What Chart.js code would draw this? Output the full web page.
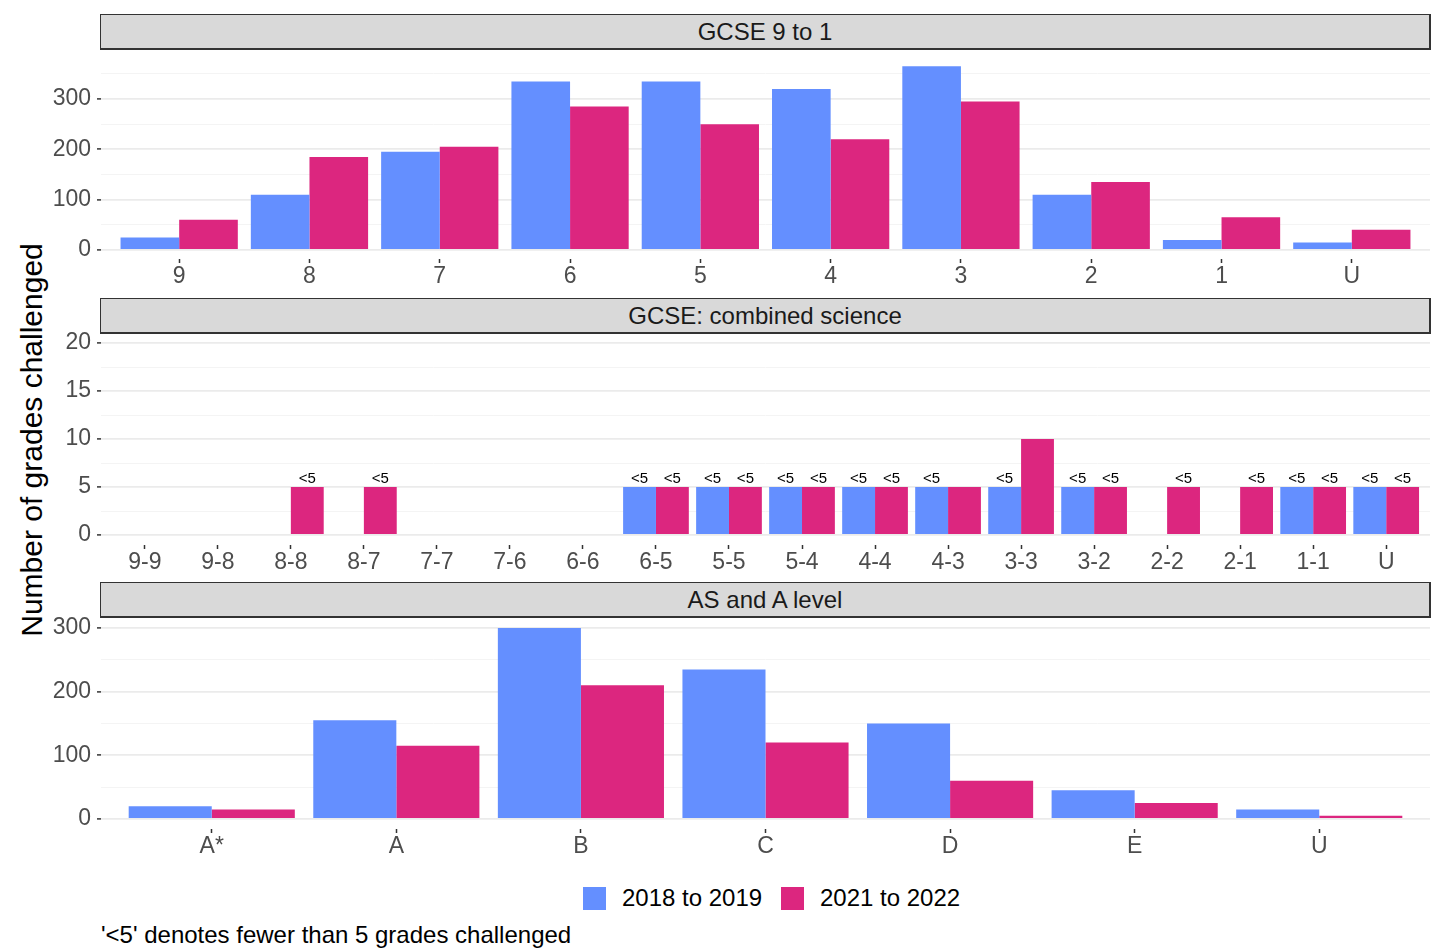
<!DOCTYPE html>
<html>
<head>
<meta charset="utf-8">
<script src="https://cdn.jsdelivr.net/npm/chart.js@4.4.1/dist/chart.umd.min.js"></script>
<style>
    body {
        margin: 0;
        width: 1446px;
        height: 950px;
        position: relative;
        overflow: hidden;
        background: #fff;
        font-family: "Liberation Sans", Arial, sans-serif;
    }
    .strip {
        position: absolute;
        left: 100px;
        width: 1331px;
        height: 36px;
        box-sizing: border-box;
        background: #D9D9D9;
        border: 1px solid #333;
        border-right-width: 2px;
        border-bottom-width: 2px;
        color: #1A1A1A;
        font-size: 24px;
        line-height: 33px;
        text-align: center;
        z-index: 2;
    }
    .panel {
        position: absolute;
        left: 0;
        width: 1446px;
        z-index: 1;
    }
    #yTitle {
        position: absolute;
        left: 32px;
        top: 440px;
        transform: translate(-50%, -50%) rotate(-90deg);
        white-space: nowrap;
        font-size: 30px;
        color: #000;
    }
    .legend {
        position: absolute;
        top: 884px;
        display: flex;
        align-items: center;
        font-size: 24px;
        color: #000;
    }
    .legend .swatch {
        width: 23px;
        height: 23px;
        margin-right: 16px;
    }
    #caption {
        position: absolute;
        left: 101px;
        top: 921px;
        font-size: 24px;
        color: #000;
        white-space: nowrap;
    }
</style>
</head>
<body>
<div class="strip" style="top:14px">GCSE 9 to 1</div>
<div class="strip" style="top:298px">GCSE: combined science</div>
<div class="strip" style="top:582px">AS and A level</div>

<div class="panel" style="top:30px;height:269px"><canvas id="gcseChart"></canvas></div>
<div class="panel" style="top:314px;height:271px"><canvas id="scienceChart"></canvas></div>
<div class="panel" style="top:598px;height:271px"><canvas id="alevelChart"></canvas></div>

<div id="yTitle">Number of grades challenged</div>

<div class="legend" style="left:583px"><div class="swatch" style="background:#648FFF"></div>2018 to 2019</div>
<div class="legend" style="left:781px"><div class="swatch" style="background:#DC267F"></div>2021 to 2022</div>
<div id="caption">'&lt;5' denotes fewer than 5 grades challenged</div>

<script>
// series labels
const seriesNames = ['2018 to 2019', '2021 to 2022'];

// GCSE 9 to 1
const gcseGrades = ['9', '8', '7', '6', '5', '4', '3', '2', '1', 'U'];
const gcse2018 = [25, 110, 195, 335, 335, 320, 365, 110, 20, 15];
const gcse2021 = [60, 185, 205, 285, 250, 220, 295, 135, 65, 40];
const gcseYTicks = [0, 100, 200, 300];

// GCSE combined science ('<5' = suppressed, drawn at 5)
const scienceGrades = ['9-9', '9-8', '8-8', '8-7', '7-7', '7-6', '6-6', '6-5', '5-5',
    '5-4', '4-4', '4-3', '3-3', '3-2', '2-2', '2-1', '1-1', 'U'];
const science2018 = [null, null, null, null, null, null, null, '<5', '<5',
    '<5', '<5', '<5', '<5', '<5', null, null, '<5', '<5'];
const science2021 = [null, null, '<5', '<5', null, null, null, '<5', '<5',
    '<5', '<5', 5, 10, '<5', '<5', '<5', '<5', '<5'];
const scienceYTicks = [0, 5, 10, 15, 20];

// AS and A level
const alevelGrades = ['A*', 'A', 'B', 'C', 'D', 'E', 'U'];
const alevel2018 = [20, 155, 300, 235, 150, 45, 15];
const alevel2021 = [15, 115, 210, 120, 60, 25, 5];
const alevelYTicks = [0, 100, 200, 300];

const SUPPRESSED = '<5';
const SUPPRESSED_VALUE = 5;

const colors = {
    y2018: '#648FFF',
    y2021: '#DC267F',
    grid: '#EBEBEB',
    minorGrid: '#F4F4F4',
    tickText: '#4D4D4D',
    tickMark: '#333333'
};

Chart.defaults.font.family = '"Liberation Sans", Arial, sans-serif';

// draws '<5' above suppressed bars
const suppressedLabels = {
    id: 'suppressedLabels',
    afterDatasetsDraw(chart, args, opts) {
        if (!opts.raw) return;
        const ctx = chart.ctx;
        ctx.save();
        ctx.font = '15px "Liberation Sans", Arial, sans-serif';
        ctx.fillStyle = '#000';
        ctx.textAlign = 'center';
        ctx.textBaseline = 'alphabetic';
        opts.raw.forEach((series, di) => {
            const meta = chart.getDatasetMeta(di);
            series.forEach((v, i) => {
                if (v === SUPPRESSED && meta.data[i]) {
                    ctx.fillText('<5', meta.data[i].x, meta.data[i].y - 4);
                }
            });
        });
        ctx.restore();
    }
};

function toValue(v) {
    return v === SUPPRESSED ? SUPPRESSED_VALUE : v;
}

function makePanel(canvasId, grades, s2018, s2021, yMin, yMax, majorTicks, minorStep, raw) {
    const gridValues = [];
    for (let v = 0; v <= yMax; v += minorStep) gridValues.push(v);
    const isMajor = v => majorTicks.includes(v);

    return new Chart(document.getElementById(canvasId), {
        type: 'bar',
        data: {
            datasets: [
                {
                    label: seriesNames[0],
                    data: s2018.map((v, i) => ({ x: i, y: toValue(v) })),
                    backgroundColor: colors.y2018
                },
                {
                    label: seriesNames[1],
                    data: s2021.map((v, i) => ({ x: i, y: toValue(v) })),
                    backgroundColor: colors.y2021
                }
            ]
        },
        options: {
            responsive: true,
            maintainAspectRatio: false,
            animation: false,
            barPercentage: 1,
            categoryPercentage: 0.9,
            layout: { padding: { left: 0, right: 16, top: 20, bottom: 0 } },
            plugins: {
                legend: { display: false },
                tooltip: { enabled: false },
                suppressedLabels: { raw: raw }
            },
            scales: {
                x: {
                    type: 'linear',
                    bounds: 'data',
                    offset: false,
                    min: -0.6,
                    max: grades.length - 0.4,
                    afterBuildTicks: s => { s.ticks = grades.map((_, i) => ({ value: i })); },
                    afterFit: s => { s.height = 40; s.paddingLeft = 0; s.paddingRight = 0; },
                    ticks: {
                        autoSkip: false,
                        maxRotation: 0,
                        padding: 0,
                        color: colors.tickText,
                        font: { size: 23 },
                        callback: v => grades[v]
                    },
                    grid: {
                        display: true,
                        offset: false,
                        drawOnChartArea: false,
                        drawTicks: true,
                        tickLength: 4,
                        tickColor: colors.tickMark,
                        tickWidth: 1.5
                    },
                    border: { display: false }
                },
                y: {
                    type: 'linear',
                    bounds: 'data',
                    min: yMin,
                    max: yMax,
                    afterBuildTicks: s => { s.ticks = gridValues.map(v => ({ value: v })); },
                    afterFit: s => { s.width = 101; s.paddingTop = 0; s.paddingBottom = 0; },
                    ticks: {
                        autoSkip: false,
                        padding: 6,
                        color: colors.tickText,
                        font: { size: 23 },
                        callback: v => isMajor(v) ? String(v) : ''
                    },
                    grid: {
                        color: c => isMajor(c.tick.value) ? colors.grid : colors.minorGrid,
                        lineWidth: c => isMajor(c.tick.value) ? 1.8 : 1,
                        tickLength: 4,
                        tickWidth: 1.5,
                        tickColor: c => isMajor(c.tick.value) ? colors.tickMark : 'rgba(0,0,0,0)'
                    },
                    border: { display: false }
                }
            }
        },
        plugins: [suppressedLabels]
    });
}

makePanel('gcseChart', gcseGrades, gcse2018, gcse2021, -17.9, 397.4, gcseYTicks, 50, null);
makePanel('scienceChart', scienceGrades, science2018, science2021, -1.04, 20.94, scienceYTicks, 2.5,
    [science2018, science2021]);
makePanel('alevelChart', alevelGrades, alevel2018, alevel2021, -15.7, 315.7, alevelYTicks, 50, null);
</script>
</body>
</html>
